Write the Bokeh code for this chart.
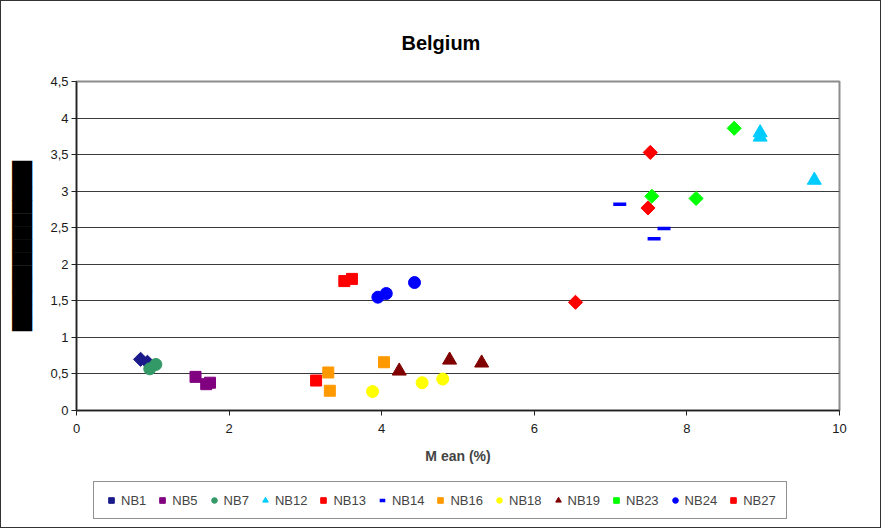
import math
from bokeh.plotting import figure
from bokeh.layouts import column
from bokeh.models import (ColumnDataSource, Legend, LegendItem, FixedTicker,
                          CustomJSTickFormatter, Range1d)
from bokeh.embed import file_html
from bokeh.resources import INLINE

FONT = "Liberation Sans"

# ---------------- data ----------------
nb1_x = [0.84, 0.93]
nb1_y = [0.70, 0.66]
nb5_x = [1.56, 1.70, 1.75]
nb5_y = [0.46, 0.36, 0.38]
nb7_x = [0.96, 1.04]
nb7_y = [0.57, 0.63]
nb12_x = [8.96, 8.96, 9.67]
nb12_y = [3.80, 3.74, 3.15]
nb13_x = [7.52, 7.49, 6.54]
nb13_y = [3.53, 2.77, 1.48]
nb14_x = [7.12, 7.70, 7.57]
nb14_y = [2.82, 2.49, 2.35]
nb16_x = [3.30, 3.32, 4.03]
nb16_y = [0.52, 0.27, 0.66]
nb18_x = [3.88, 4.53, 4.80]
nb18_y = [0.26, 0.38, 0.43]
nb19_x = [4.23, 4.89, 5.31]
nb19_y = [0.54, 0.69, 0.65]
nb23_x = [8.62, 7.54, 8.12]
nb23_y = [3.86, 2.93, 2.90]
nb24_x = [3.95, 4.06, 4.43]
nb24_y = [1.55, 1.60, 1.75]
nb27_x = [3.14, 3.51, 3.61]
nb27_y = [0.41, 1.77, 1.80]

x_ticks = [0, 2, 4, 6, 8, 10]
x_tick_labels = ["0", "2", "4", "6", "8", "10"]
y_ticks = [0, 0.5, 1, 1.5, 2, 2.5, 3, 3.5, 4, 4.5]
y_tick_labels = ["0", "0,5", "1", "1,5", "2", "2,5", "3", "3,5", "4", "4,5"]

series = [
    ("NB1", nb1_x, nb1_y, "diamond", "#1a1a8a"),
    ("NB5", nb5_x, nb5_y, "square", "#800080"),
    ("NB7", nb7_x, nb7_y, "circle", "#339966"),
    ("NB12", nb12_x, nb12_y, "triangle", "#00CCFF"),
    ("NB13", nb13_x, nb13_y, "diamond", "#FF0000"),
    ("NB14", nb14_x, nb14_y, "dash", "#0000FF"),
    ("NB16", nb16_x, nb16_y, "square", "#FF9900"),
    ("NB18", nb18_x, nb18_y, "circle", "#FFFF00"),
    ("NB19", nb19_x, nb19_y, "triangle", "#800000"),
    ("NB23", nb23_x, nb23_y, "diamond", "#00FF00"),
    ("NB24", nb24_x, nb24_y, "circle", "#0000FF"),
    ("NB27", nb27_x, nb27_y, "square", "#FF0000"),
]
sizes = {"diamond": 10, "square": 11, "circle": 12, "triangle": 14, "dash": 13}

JS = ("const i = tvals.findIndex(t => Math.abs(t - tick) < 1e-9); "
      "return i >= 0 ? tlabels[i] : '';")


def add_series(fig, name, xs, ys, marker, color):
    src = ColumnDataSource(dict(x=xs, y=ys))
    if marker == "dash":
        return fig.scatter("x", "y", source=src, marker="dash", size=sizes[marker],
                           line_color=color, line_width=3.5)
    if marker == "diamond":
        return fig.scatter("x", "y", source=src, marker="square", angle=math.pi / 4,
                           size=sizes[marker], fill_color=color, line_color=color,
                           line_width=1)
    return fig.scatter("x", "y", source=src, marker=marker, size=sizes[marker],
                       fill_color=color, line_color=color, line_width=1)


W = 881
p = figure(width=W, height=470, output_backend="svg", toolbar_location=None,
           x_range=Range1d(0, 10), y_range=Range1d(0, 4.5),
           min_border_left=76, min_border_right=42, min_border_top=81,
           min_border_bottom=60)
p.styles = {"box-shadow": "inset 1px 1px 0 0 #333333, inset -1px 0 0 0 #333333"}

p.title.text = "Belgium"
p.title.align = "left"
p.title.text_font = FONT
p.title.text_font_size = "20px"
p.title.text_font_style = "bold"
p.title.text_color = "#000000"
p.title.offset = 325
p.title.standoff = 55

p.background_fill_color = "white"
p.border_fill_alpha = 0
p.outline_line_color = "#8c8c8c"
p.outline_line_width = 2

p.xgrid.visible = False
p.ygrid.ticker = FixedTicker(ticks=y_ticks[1:-1])
p.ygrid.grid_line_color = "#3a3a3a"
p.ygrid.grid_line_width = 1

p.xaxis.ticker = FixedTicker(ticks=x_ticks)
p.xaxis.formatter = CustomJSTickFormatter(
    args=dict(tvals=x_ticks, tlabels=x_tick_labels), code=JS)
p.yaxis.ticker = FixedTicker(ticks=y_ticks)
p.yaxis.formatter = CustomJSTickFormatter(
    args=dict(tvals=y_ticks, tlabels=y_tick_labels), code=JS)

for ax in (p.xaxis[0], p.yaxis[0]):
    ax.axis_line_color = "#222222"
    ax.axis_line_width = 1.5
    ax.major_tick_line_color = "#222222"
    ax.major_tick_in = 0
    ax.major_tick_out = 5
    ax.minor_tick_line_color = None
    ax.major_label_text_font = FONT
    ax.major_label_text_font_size = "13px"
    ax.major_label_text_color = "#1a1a1a"
p.yaxis.major_label_standoff = 3

p.xaxis.axis_label = "M ean (%)"
p.xaxis.axis_label_text_font = FONT
p.xaxis.axis_label_text_font_size = "14px"
p.xaxis.axis_label_text_font_style = "bold"
p.xaxis.axis_label_standoff = 12
p.xaxis.major_label_standoff = 8

# y-axis title is hidden by a solid black bar in the reference
p.yaxis.axis_label = "\u2588" * 13
p.yaxis.axis_label_text_font = "DejaVu Sans"
p.yaxis.axis_label_text_font_size = "17px"
p.yaxis.axis_label_text_font_style = "normal"
p.yaxis.axis_label_text_color = "black"
p.yaxis.axis_label_standoff = 15

for name, xs, ys, marker, color in series:
    add_series(p, name, xs, ys, marker, color)

# legend strip below the chart (same series, drawn out of view; only the key shows)
pl = figure(width=W, height=58, output_backend="svg", toolbar_location=None,
            x_range=Range1d(-100, -99), y_range=Range1d(-100, -99),
            min_border=0, x_axis_location=None, y_axis_location=None)
pl.styles = {"box-shadow": "inset 1px -1px 0 0 #333333, inset -1px 0 0 0 #333333"}
pl.xgrid.visible = False
pl.ygrid.visible = False
pl.outline_line_color = None
pl.background_fill_alpha = 0
pl.border_fill_alpha = 0

items = []
for name, xs, ys, marker, color in series:
    r = add_series(pl, name, xs, ys, marker, color)
    items.append(LegendItem(label=name, renderers=[r]))

legend = Legend(items=items, orientation="horizontal", location=(17, 9),
                label_text_font=FONT, label_text_font_size="13px",
                glyph_width=14, glyph_height=16, spacing=9, padding=10,
                label_standoff=3, border_line_color="#222222",
                border_line_width=1, background_fill_color="white",
                background_fill_alpha=1, margin=0)
pl.add_layout(legend, "center")

layout = column(p, pl, spacing=0)
open("out.html", "w").write(file_html(layout, INLINE))
